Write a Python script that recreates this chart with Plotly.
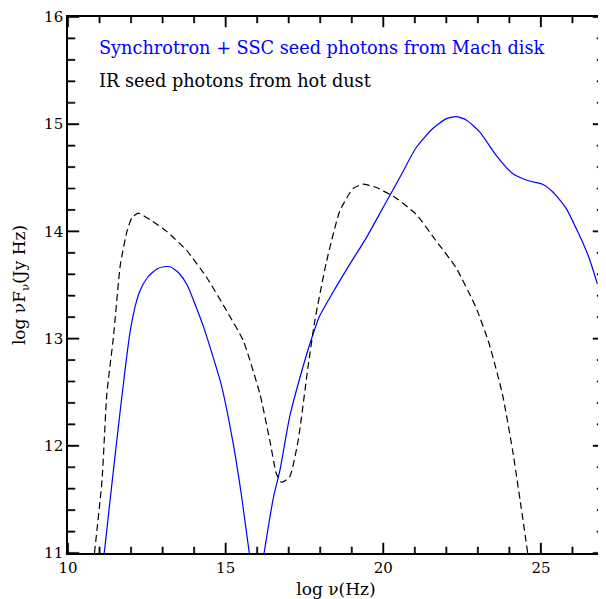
import plotly.graph_objects as go

# Synchrotron + SSC (Mach disk) — solid blue
sync_x = [11.15, 11.99, 12.26, 12.52, 12.82, 13.05, 13.24, 13.52, 13.78, 14.03, 14.31, 14.61, 14.87, 15.24, 15.51, 15.75]
sync_y = [11.00, 13.10, 13.43, 13.57, 13.65, 13.67, 13.67, 13.61, 13.50, 13.32, 13.10, 12.82, 12.56, 12.02, 11.52, 11.00]

ssc_x = [16.22, 16.51, 16.72, 17.03, 17.35, 17.67, 17.98, 18.40, 18.93, 19.46, 19.99, 20.52, 21.04, 21.57, 21.99,
         22.31, 22.63, 23.05, 23.58, 24.10, 24.63, 25.05, 25.37, 25.79, 26.21, 26.53, 26.79]
ssc_y = [11.00, 11.51, 11.77, 12.27, 12.63, 12.95, 13.21, 13.43, 13.69, 13.94, 14.22, 14.50, 14.78, 14.96, 15.05,
         15.07, 15.04, 14.93, 14.71, 14.54, 14.47, 14.44, 14.37, 14.22, 13.97, 13.75, 13.51]

# IR seed photons from hot dust — dashed black
dust_x = [10.84, 11.08, 11.23, 11.44, 11.66, 11.87, 12.03, 12.23, 12.60, 13.13, 13.77, 14.40, 15.03, 15.56, 16.09,
          16.40, 16.61, 16.77, 17.03, 17.30, 17.61, 17.83, 18.20, 18.62, 19.04, 19.35, 19.78, 20.41, 21.04, 21.68,
          22.31, 22.94, 23.36, 23.78, 24.10, 24.37, 24.58]
dust_y = [11.00, 11.68, 12.48, 13.01, 13.69, 14.00, 14.13, 14.17, 14.11, 14.00, 13.82, 13.57, 13.26, 12.98, 12.48,
          12.05, 11.74, 11.66, 11.71, 12.05, 12.73, 13.17, 13.72, 14.19, 14.40, 14.44, 14.41, 14.31, 14.16, 13.91,
          13.66, 13.29, 12.95, 12.48, 11.96, 11.43, 11.00]

legend_labels = ["Synchrotron + SSC seed photons from Mach disk", "IR seed photons from hot dust"]

x_range = [10, 27]
y_range = [11, 16]
x_major = [10, 15, 20, 25]
x_minor = [11, 12, 13, 14, 16, 17, 18, 19, 21, 22, 23, 24, 26, 27]
y_major = [11, 12, 13, 14, 15, 16]
y_minor = [11.2, 11.4, 11.6, 11.8, 12.2, 12.4, 12.6, 12.8, 13.2, 13.4, 13.6, 13.8,
           14.2, 14.4, 14.6, 14.8, 15.2, 15.4, 15.6, 15.8]

BLUE = "#0000ff"
FONT = "DejaVu Serif"

# plot box size in pixels (figure 598x591 minus margins) -> tick sizes in data units
PLOT_W, PLOT_H = 538, 538
px_x = (x_range[1] - x_range[0]) / PLOT_W
px_y = (y_range[1] - y_range[0]) / PLOT_H

fig = go.Figure()
fig.add_trace(go.Scatter(x=sync_x, y=sync_y, mode="lines", line=dict(color=BLUE, width=1.2, shape="spline", smoothing=0.6),
                         showlegend=False, name=legend_labels[0]))
fig.add_trace(go.Scatter(x=ssc_x, y=ssc_y, mode="lines", line=dict(color=BLUE, width=1.2, shape="spline", smoothing=0.6),
                         showlegend=False, name=legend_labels[0]))
fig.add_trace(go.Scatter(x=dust_x, y=dust_y, mode="lines",
                         line=dict(color="black", width=1.2, dash="7px,4px", shape="spline", smoothing=0.5),
                         showlegend=False, name=legend_labels[1]))


# inward tick marks on all four sides, built from the tick arrays as thin filled bars
def x_ticks(vals, length_px, half_w_px=0.6):
    xs, ys = [], []
    w = half_w_px * px_x
    L = length_px * px_y
    for v in vals:
        for base, sign in ((y_range[0], 1), (y_range[1], -1)):
            xs += [v - w, v + w, v + w, v - w, v - w, None]
            ys += [base, base, base + sign * L, base + sign * L, base, None]
    return xs, ys


def y_ticks(vals, length_px, half_w_px=0.6):
    xs, ys = [], []
    w = half_w_px * px_y
    L = length_px * px_x
    for v in vals:
        for base, sign in ((x_range[0], 1), (x_range[1], -1)):
            xs += [base, base + sign * L, base + sign * L, base, base, None]
            ys += [v - w, v - w, v + w, v + w, v - w, None]
    return xs, ys


for (tx, ty) in [x_ticks(x_major, 10), x_ticks(x_minor, 6), y_ticks(y_major, 11), y_ticks(y_minor, 7)]:
    fig.add_trace(go.Scatter(x=tx, y=ty, mode="lines", fill="toself", fillcolor="black",
                             line=dict(color="black", width=0.6),
                             showlegend=False, hoverinfo="skip", connectgaps=False))

fig.add_annotation(x=0.0576, y=0.942, xref="paper", yref="paper", text=legend_labels[0], showarrow=False,
                   xanchor="left", yanchor="middle", xshift=-2, font=dict(family=FONT, size=17.7, color=BLUE))
fig.add_annotation(x=0.0576, y=0.881, xref="paper", yref="paper", text=legend_labels[1], showarrow=False,
                   xanchor="left", yanchor="middle", xshift=-2, font=dict(family=FONT, size=17.7, color="black"))

common = dict(ticks="inside", ticklen=10, tickcolor="#000000", tickwidth=1.1,
              showline=True, linecolor="black", linewidth=1.6, mirror="allticks", showgrid=False, zeroline=False,
              ticklabeloverflow="allow", tickfont=dict(family=FONT, size=15, color="black"))

fig.update_xaxes(range=x_range, tickvals=x_major, ticktext=[str(v) for v in x_major], linewidth=2,
                 title=dict(text="log ν(Hz)", font=dict(family=FONT, size=17, color="black"), standoff=9),
                 **{k: v for k, v in common.items() if k != "linewidth"})
fig.update_yaxes(range=y_range, tickvals=y_major, ticktext=[str(v) for v in y_major],
                 title=dict(text="log νF<sub>ν</sub>(Jy Hz)", font=dict(family=FONT, size=17, color="black"), standoff=14),
                 **common)

# page body has an 8px margin; size the figure so the plot box lands at x 68..606, y 15..553 of the window
fig.update_layout(width=598, height=591, margin=dict(l=60, r=0, t=7, b=46),
                  plot_bgcolor="white", paper_bgcolor="white", font=dict(family=FONT))

fig.write_html("out.html")
